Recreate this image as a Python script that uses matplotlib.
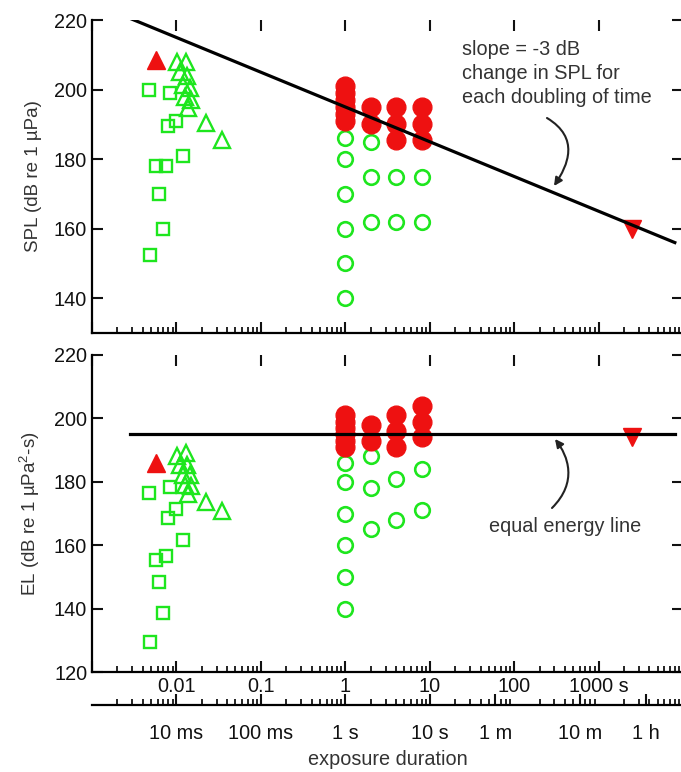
"""
Exposure duration vs SPL / EL — two panels, log time axis
"""
import matplotlib
matplotlib.use('Agg')
import matplotlib.pyplot as plt
from matplotlib.path import Path
from matplotlib.patches import FancyArrowPatch
from matplotlib.ticker import LogLocator, NullFormatter, FixedLocator

plt.rcParams['font.family'] = ['Liberation Sans', 'DejaVu Sans']
plt.rcParams['mathtext.fontset'] = 'custom'
plt.rcParams['mathtext.rm'] = 'Liberation Sans'
plt.rcParams['mathtext.it'] = 'Liberation Sans'

GREEN = '#1ee61e'
RED = '#ee1111'

# ------------------------------------------------------------
# data (duration in s, SPL / EL in dB)
# ------------------------------------------------------------
# open squares
sq_t = [0.0047, 0.0084, 0.0080, 0.0099, 0.012, 0.0058, 0.0076, 0.0063, 0.0069, 0.0049]
sq_spl = [200, 199, 189.5, 191, 181, 178, 178, 170, 160, 152.5]
sq_el = [176.5, 178.3, 168.5, 171.5, 161.5, 155.3, 156.6, 148.5, 138.5, 129.5]

# open triangles
tri_t = [0.0102, 0.0130, 0.0110, 0.0134, 0.0120, 0.0145, 0.0126, 0.0149, 0.0137, 0.0224, 0.035]
tri_spl = [208, 208, 205, 204, 201.3, 200.4, 198, 197, 194.7, 190.3, 185.5]
tri_el = [188.1, 189.1, 185.4, 185.3, 182.1, 182, 179, 178.7, 176.1, 173.7, 170.7]

# filled red triangle (up)
rtri_t = [0.0057]
rtri_spl = [208.5]
rtri_el = [186]

# open green circles
gc_t = [1, 1, 1, 1, 1, 1, 2, 2, 2, 4, 4, 8, 8]
gc_spl = [186, 180, 170, 160, 150, 140, 185, 175, 162, 175, 162, 175, 162]
gc_el = [186, 180, 170, 160, 150, 140, 188, 178, 165, 181, 168, 184, 171]

# filled red circles
rc_t = [1, 1, 1, 1, 1, 1, 2, 2, 4, 4, 4, 8, 8, 8]
rc_spl = [201, 199, 197, 195, 193, 191, 195, 190, 195, 190, 185.5, 195, 190, 185.5]
rc_el = [201, 199, 197, 195, 193, 191, 198, 193, 201, 196, 191, 204, 199, 194]

# filled red triangle (down)
rdn_t = [2500]
rdn_spl = [160]
rdn_el = [194]

# reference lines
line_t = [0.0028, 8000]
slope_line = [220.5, 156]
energy_line = [195, 195]

dec_ticks = [0.001, 0.01, 0.1, 1, 10, 100, 1000, 10000]
dec_labels = ['', '0.01', '0.1', '1', '10', '100', '1000 s', '']
time_ticks = [0.01, 0.1, 1, 10, 60, 600, 3600]
time_labels = ['10 ms', '100 ms', '1 s', '10 s', '1 m', '10 m', '1 h']

# ------------------------------------------------------------
W, H = 681, 772
fig = plt.figure(figsize=(W / 100, H / 100), dpi=100)
left = 92 / W
width = 591 / W
ax1 = fig.add_axes([left, 1 - 333 / H, width, 313 / H])
ax2 = fig.add_axes([left, 1 - 672 / H, width, 317 / H])
ax3 = fig.add_axes([left, 1 - 705 / H, width, 1e-4])

FS = 14.3


def draw(ax, sq, tri, rtri, gc, rc, rdn, line):
    ax.plot(sq_t, sq, 's', ms=8, mfc='none', mec=GREEN, mew=1.7, zorder=3)
    ax.plot(tri_t, tri, '^', ms=11, mfc='none', mec=GREEN, mew=1.7, zorder=3)
    ax.plot(gc_t, gc, 'o', ms=10.5, mfc='none', mec=GREEN, mew=1.9, zorder=3)
    ax.plot(rtri_t, rtri, '^', ms=13, color=RED, zorder=4)
    ax.plot(rc_t, rc, 'o', ms=13.5, color=RED, zorder=4)
    ax.plot(rdn_t, rdn, 'v', ms=12.5, color=RED, zorder=4)
    ax.plot(line_t, line, '-', color='black', lw=2.3, zorder=5)

    ax.set_xscale('log')
    ax.set_xlim(1e-3, 1e4)
    for s in ['top', 'right']:
        ax.spines[s].set_visible(False)
    for s in ['left', 'bottom']:
        ax.spines[s].set_linewidth(1.6)
    ax.xaxis.set_major_locator(FixedLocator(dec_ticks))
    ax.xaxis.set_minor_locator(LogLocator(subs=range(2, 10), numticks=20))
    ax.xaxis.set_minor_formatter(NullFormatter())
    ax.tick_params(which='major', direction='in', length=8, width=1.5,
                   labelsize=FS, top=True, right=True, colors='#111111')
    ax.tick_params(which='minor', direction='in', length=4, width=1.2, top=False)


draw(ax1, sq_spl, tri_spl, rtri_spl, gc_spl, rc_spl, rdn_spl, slope_line)
draw(ax2, sq_el, tri_el, rtri_el, gc_el, rc_el, rdn_el, energy_line)

ax1.set_ylim(130, 220)
ax1.set_yticks([140, 160, 180, 200, 220])
ax1.set_xticklabels([])
ax2.set_ylim(120, 220)
ax2.set_yticks([120, 140, 160, 180, 200, 220])
ax2.set_xticklabels(dec_labels)

ax1.set_ylabel('SPL (dB re 1 µPa)', fontsize=13.5, color='#333333')
ax2.set_ylabel(r'EL (dB re 1 µPa$^2$-s)', fontsize=13.5, color='#333333')
ax1.yaxis.set_label_coords(-0.085, 0.5)
ax2.yaxis.set_label_coords(-0.085, 0.5)

# second time axis under the lower panel
ax3.set_xscale('log')
ax3.set_xlim(1e-3, 1e4)
ax3.patch.set_visible(False)
for s in ['top', 'right', 'left']:
    ax3.spines[s].set_visible(False)
ax3.spines['bottom'].set_linewidth(1.6)
ax3.yaxis.set_visible(False)
ax3.set_xticks(time_ticks, labels=time_labels)
ax3.xaxis.set_minor_locator(LogLocator(subs=range(2, 10), numticks=20))
ax3.xaxis.set_minor_formatter(NullFormatter())
ax3.tick_params(which='major', direction='in', length=8, width=1.5,
                labelsize=FS, colors='#111111', pad=14)
ax3.tick_params(which='minor', direction='in', length=4, width=1.2)
ax3.set_xlabel('exposure duration', fontsize=FS, color='#333333', labelpad=5)

# ------------------------------------------------------------
# annotations
# ------------------------------------------------------------
def px(x, y):
    return (x / W, 1 - y / H)


fig.text(*px(462, 40), 'slope = -3 dB\nchange in SPL for\neach doubling of time',
         ha='left', va='top', fontsize=FS, color='#333333', linespacing=1.32)
fig.text(*px(565, 527), 'equal energy line',
         ha='center', va='center', fontsize=FS, color='#333333')

curves = [
    [(547, 118), (580, 138), (568, 165), (554, 186)],
    [(552, 508), (578, 482), (568, 456), (555, 439)],
]
for pts in curves:
    verts = [px(*p) for p in pts]
    path = Path(verts, [Path.MOVETO, Path.CURVE4, Path.CURVE4, Path.CURVE4])
    arrow = FancyArrowPatch(path=path, arrowstyle='-|>', mutation_scale=12,
                            lw=1.5, color='#222222', transform=fig.transFigure)
    fig.add_artist(arrow)

fig.savefig('out.png', dpi=100, facecolor='white')
